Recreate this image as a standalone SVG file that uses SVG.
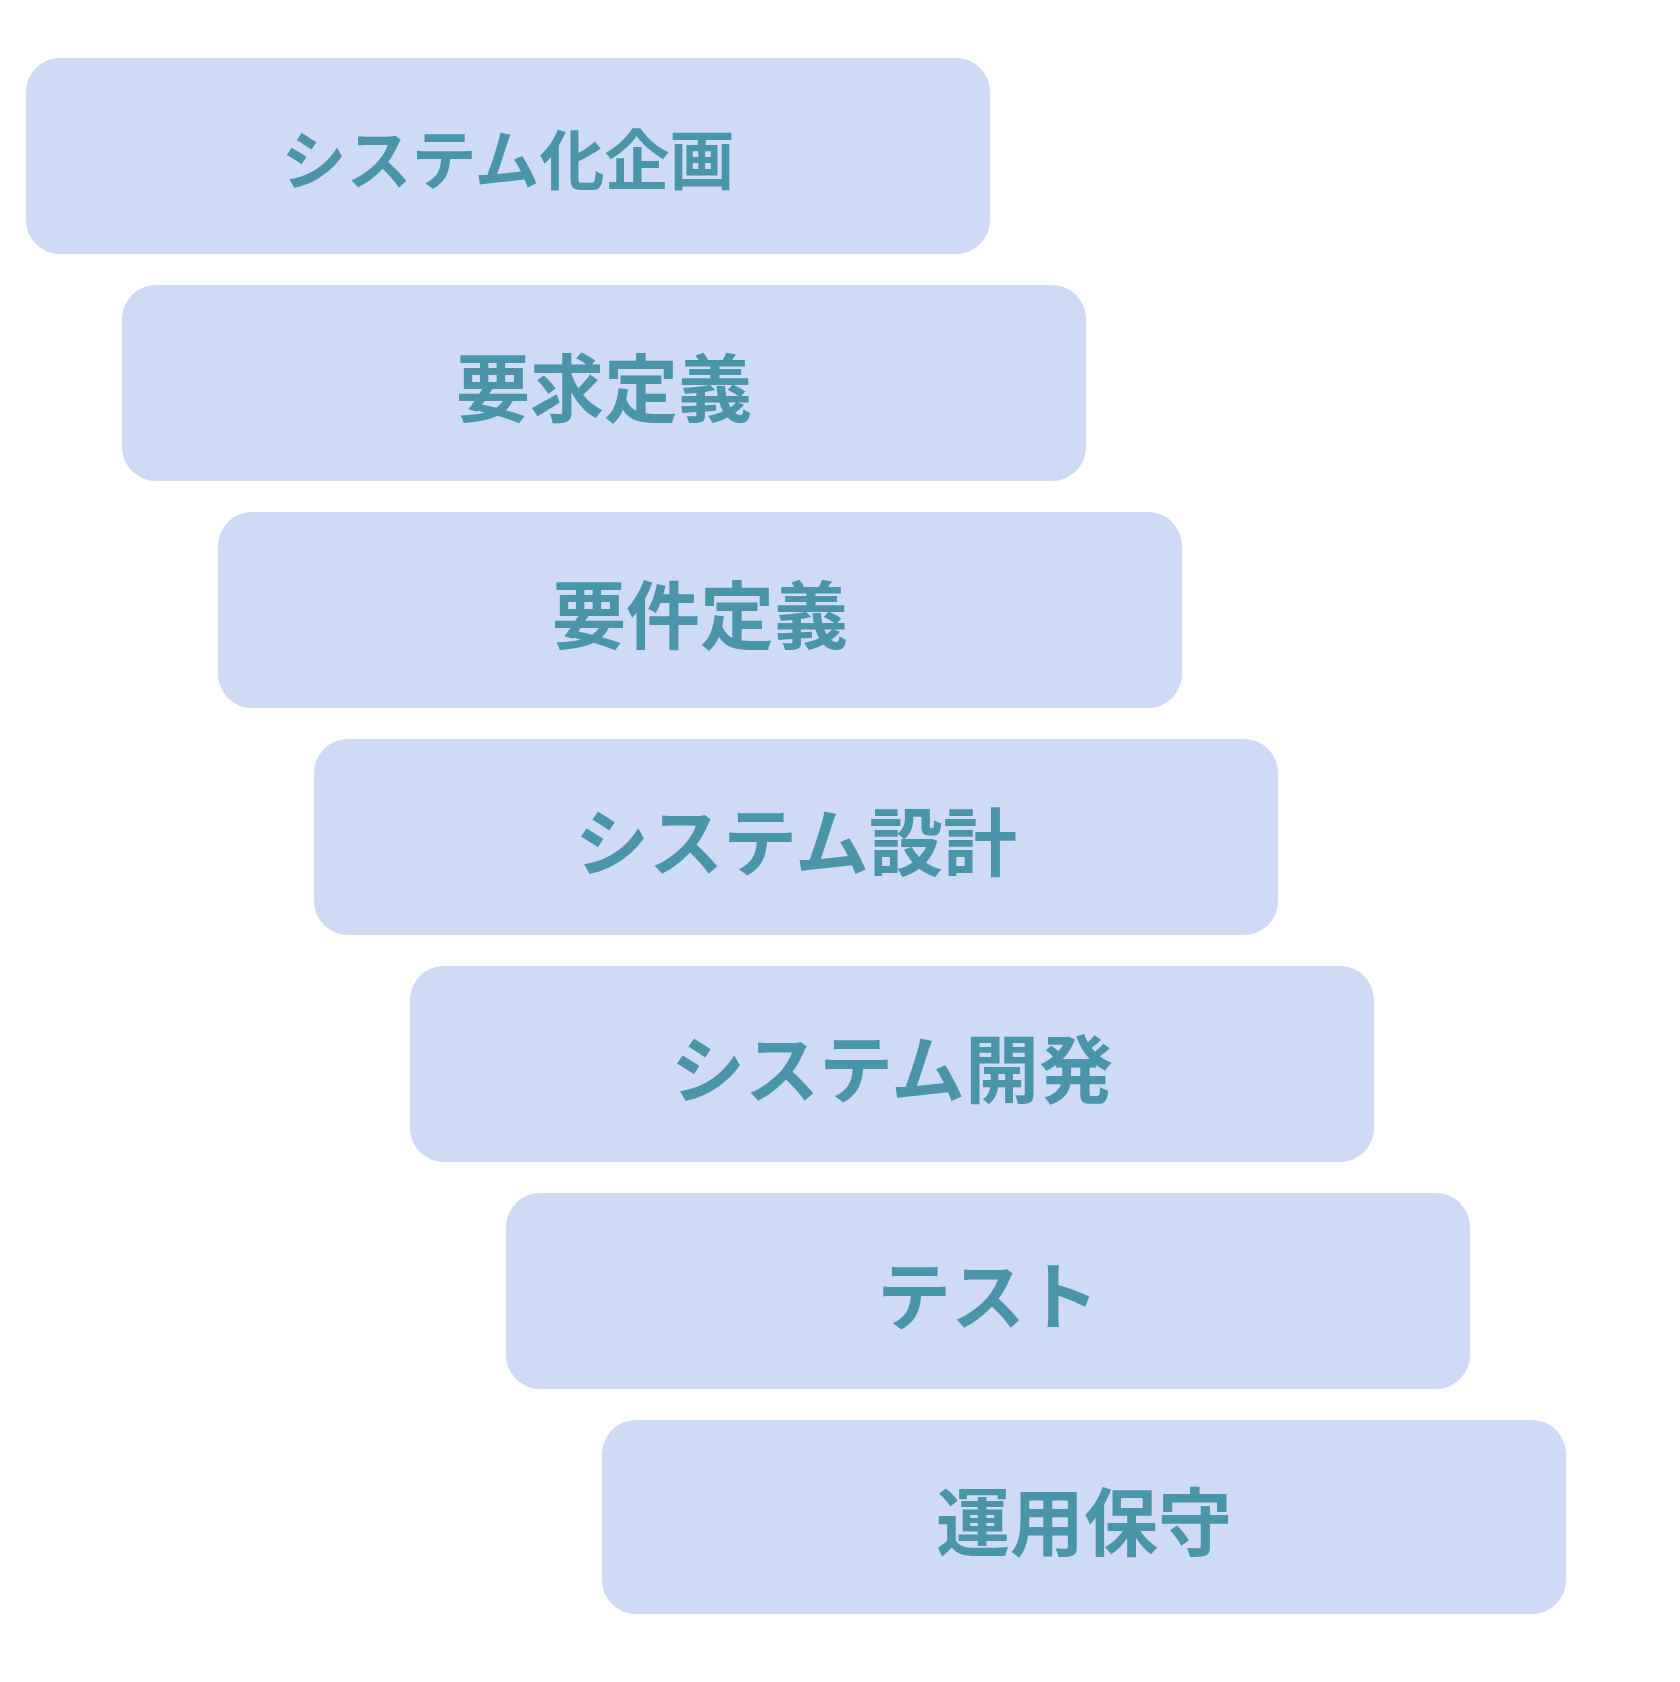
<svg xmlns="http://www.w3.org/2000/svg" width="1680" height="1682" viewBox="0 0 1680 1682">
<style>
rect{fill:#cfdaf5}
text{font-family:"Noto Sans CJK JP","Noto Sans",sans-serif;font-weight:bold;fill:#4a96a8;text-anchor:middle;dominant-baseline:central;font-size:74px}
</style>
<rect x="0" y="0" width="1680" height="1682" style="fill:#fff"/>
<g id="n1"><rect x="26" y="58" width="964" height="196" rx="34"/><text x="508" y="156" style="font-size:65px">システム化企画</text></g>
<g id="n2"><rect x="122" y="285" width="964" height="196" rx="34"/><text x="604" y="383">要求定義</text></g>
<g id="n3"><rect x="218" y="512" width="964" height="196" rx="34"/><text x="700" y="610">要件定義</text></g>
<g id="n4"><rect x="314" y="739" width="964" height="196" rx="34"/><text x="796" y="837">システム設計</text></g>
<g id="n5"><rect x="410" y="966" width="964" height="196" rx="34"/><text x="892" y="1064">システム開発</text></g>
<g id="n6"><rect x="506" y="1193" width="964" height="196" rx="34"/><text x="988" y="1291">テスト</text></g>
<g id="n7"><rect x="602" y="1420" width="964" height="194" rx="34"/><text x="1084" y="1517">運用保守</text></g>
<g id="connectors"></g>
</svg>
